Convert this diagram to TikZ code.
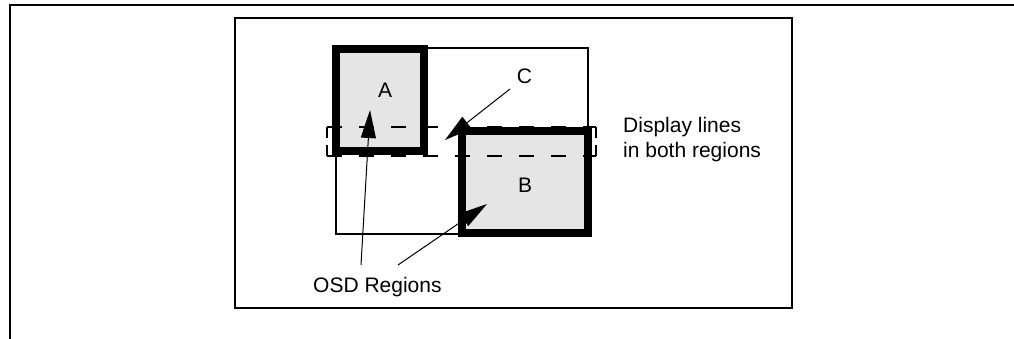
\documentclass[tikz,border=0pt]{standalone}
\usepackage{fontspec}
\setmainfont{Liberation Sans}
\usetikzlibrary{arrows.meta}
\definecolor{regfill}{RGB}{229,229,229}
\begin{document}
\begin{tikzpicture}[x=1pt,y=-1pt,
  frame/.style={line width=2.2pt},
  thinbox/.style={line width=1.8pt},
  osdbox/.style={line width=8pt, fill=regfill},
  dashbox/.style={line width=2pt, dash pattern=on 15pt off 17pt},
  dashside/.style={line width=2pt, dash pattern=on 11pt off 7pt},
  pointer/.style={line width=1pt, -{Triangle[length=28pt,width=15pt]}},
  lbl/.style={inner sep=0pt, font=\fontsize{21}{25}\selectfont},
  letter/.style={inner sep=0pt, font=\fontsize{21}{25}\selectfont}]
\useasboundingbox (0,0) rectangle (1014,339);
% outer and inner frames
\draw[frame] (10,339) -- (10,5) -- (1014,5);
\draw[frame] (235,18) rectangle (792,308);
% display area
\draw[thinbox] (336,48) rectangle (588,234);
% OSD regions
\draw[osdbox] (336,49) rectangle (424,151);
\draw[osdbox] (462,131) rectangle (588,233);
% lines in both regions
\draw[dashbox] (327,127) -- (596,127);
\draw[dashbox] (327,156) -- (596,156);
\draw[dashside] (327,127) -- (327,156);
\draw[dashside] (596,127) -- (596,156);
% labels
\node[letter, anchor=base] (la) at (385,98) {A};
\node[letter, anchor=base] (lb) at (525,193) {B};
\node[letter, anchor=base] (lc) at (524.5,84) {C};
\node[lbl, anchor=base west] (osd) at (313,292) {OSD Regions};
\node[lbl, anchor=base west] (disp1) at (623,133) {Display lines};
\node[lbl, anchor=base west] (disp2) at (623,158) {in both regions};
% pointers
\coordinate (tipA) at (370,110);
\coordinate (tipB) at (487,204);
\coordinate (tipC) at (445,140);
\coordinate (osdA) at (361,265);
\coordinate (osdB) at (398,265);
\coordinate (cfoot) at (510,89);
\draw[pointer] (osdA) -- (tipA);
\draw[pointer] (osdB) -- (tipB);
\draw[pointer] (cfoot) -- (tipC);
\end{tikzpicture}
\end{document}
